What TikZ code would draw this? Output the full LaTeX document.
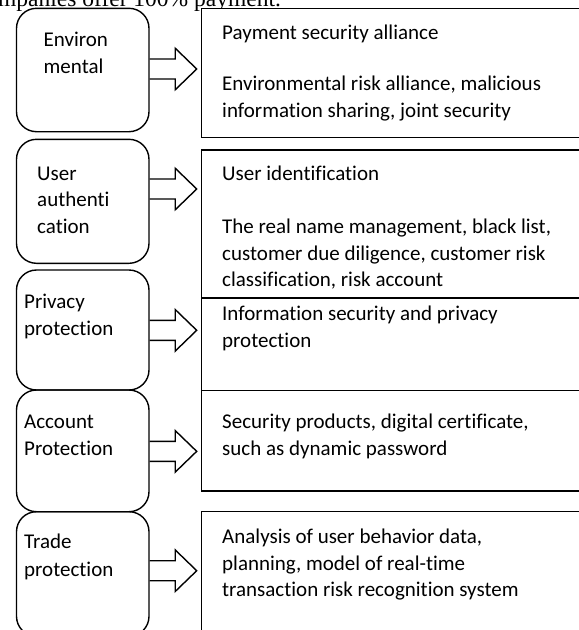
\documentclass[tikz,border=0pt]{standalone}
\usepackage{fontspec}
\setmainfont{Carlito}[Ligatures={NoCommon}]
\newfontfamily\tnrfont{Liberation Serif}
\usetikzlibrary{calc}
\tikzset{
  lbox/.style={draw, line width=1.4pt, rounded corners=20pt, minimum width=132.5pt, inner sep=0pt},
  rbox/.style={draw, line width=1.4pt, fill=white, minimum width=398.5pt, inner sep=0pt},
  txt/.style={anchor=base west, inner sep=0pt, font=\fontsize{21}{26.7}\selectfont},
  barrow/.pic={\draw[line width=1.4pt, line join=miter] (0,-10) -- (25.5,-10) -- (25.5,-20.8) -- (47,0) -- (25.5,20.8) -- (25.5,10) -- (0,10);}
}
\begin{document}
\begin{tikzpicture}[x=1pt,y=-1pt]
\useasboundingbox (0,0) rectangle (579,630);
\clip (0,0) rectangle (579,630);
% clipped running text at top
\node[anchor=base west, inner sep=0pt, font=\tnrfont\fontsize{23.5}{28}\selectfont] (top) at (-2,6.5) {mpanies offer 100\% payment.};
% right boxes
\node[rbox, minimum height=129.2pt] (R1) at (400.75,72.9) {};
\node[rbox, minimum height=148pt] (R2) at (400.75,224) {};
\node[rbox, minimum height=92.7pt] (R3) at (400.75,344.35) {};
\node[rbox, minimum height=100.3pt] (R4) at (400.75,440.85) {};
\node[rbox, minimum height=138.3pt] (R5) at (400.75,580.85) {};
% left boxes
\node[lbox, minimum height=123.4pt] (L1) at (82.75,70) {};
\node[lbox, minimum height=124pt] (L2) at (82.75,201.3) {};
\node[lbox, minimum height=120pt] (L3) at (82.75,330) {};
\node[lbox, minimum height=121.7pt] (L4) at (82.75,450.85) {};
\node[lbox, minimum height=124.6pt] (L5) at (82.75,574) {};
% block arrows
\pic at ($(L1.east)+(0,-1)$) {barrow};
\pic at ($(L2.east)+(0,-12.3)$) {barrow};
\pic at ($(L3.east)+(0,0.3)$) {barrow};
\pic at ($(L4.east)+(0,0.5)$) {barrow};
\pic at ($(L5.east)+(0,-3.3)$) {barrow};
% left texts
\node[txt] (l1a) at (43.5,46.7) {Environ};
\node[txt] (l1b) at (43.5,73.3) {mental};
\node[txt] (l2a) at (37,180) {User};
\node[txt] (l2b) at (37,206.5) {authenti};
\node[txt] (l2c) at (37,233.3) {cation};
\node[txt] (l3a) at (24,308.3) {Privacy};
\node[txt] (l3b) at (24,335) {protection};
\node[txt] (l4a) at (24,428.3) {Account};
\node[txt] (l4b) at (24,455) {Protection};
\node[txt] (l5a) at (24,548.3) {Trade};
\node[txt] (l5b) at (24,576) {protection};
% right texts
\node[txt] (r1a) at (222,39.3) {Payment security alliance};
\node[txt] (r1b) at (222,90) {Environmental risk alliance, malicious};
\node[txt] (r1c) at (222,117.5) {information sharing, joint security};
\node[txt] (r2a) at (222,180) {User identification};
\node[txt] (r2b) at (222,233.3) {The real name management, black list,};
\node[txt] (r2c) at (222,260) {customer due diligence, customer risk};
\node[txt] (r2d) at (222,286) {classification, risk account};
\node[txt] (r3a) at (222,320) {Information security and privacy};
\node[txt] (r3b) at (222,347) {protection};
\node[txt] (r4a) at (222,428.3) {Security products, digital certificate,};
\node[txt] (r4b) at (222,455) {such as dynamic password};
\node[txt] (r5a) at (222,543.3) {Analysis of user behavior data,};
\node[txt] (r5b) at (222,570) {planning, model of real-time};
\node[txt] (r5c) at (222,596.7) {transaction risk recognition system};
\end{tikzpicture}
\end{document}
